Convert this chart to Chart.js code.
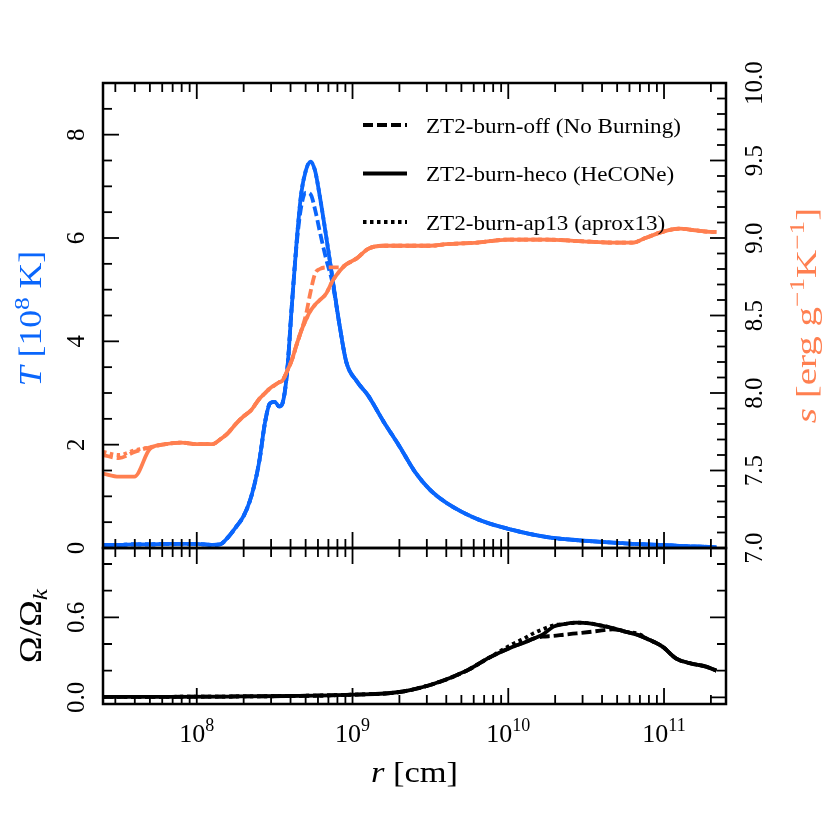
<!DOCTYPE html>
<html>
<head>
<meta charset="utf-8">
<script src="https://cdn.jsdelivr.net/npm/chart.js@4.4.1/dist/chart.umd.min.js"></script>
<style>
body { margin: 0; background: #fff; }
#wrap { position: relative; width: 830px; height: 830px; }
#wrap canvas { position: absolute; left: 0; top: 0; }
</style>
</head>
<body>
<div id="wrap">
  <canvas id="topChart" width="830" height="830"></canvas>
  <canvas id="botChart" width="830" height="830"></canvas>
</div>
<script>
// ---- data ----
const seriesLabels = ['ZT2-burn-off (No Burning)', 'ZT2-burn-heco (HeCONe)', 'ZT2-burn-ap13 (aprox13)'];

// radius grid (cm) for the upper panel
const radiusTop = [2.5e7, 3.16e7, 3.98e7, 5.01e7, 6.31e7, 7.94e7, 1.0e8, 1.26e8, 1.41e8, 1.58e8,
  1.78e8, 2.0e8, 2.24e8, 2.51e8, 2.75e8, 2.95e8, 3.16e8, 3.39e8, 3.55e8, 3.8e8,
  4.07e8, 4.37e8, 4.68e8, 5.01e8, 5.37e8, 5.75e8, 6.17e8, 6.76e8, 7.41e8, 8.32e8,
  9.12e8, 1.07e9, 1.26e9, 1.58e9, 2.0e9, 2.51e9, 3.16e9, 3.98e9, 6.31e9, 1.0e10,
  1.78e10, 2.82e10, 5.01e10, 6.31e10, 7.59e10, 9.77e10, 1.26e11, 1.58e11, 2.0e11, 2.17e11];

// temperature, 10^8 K
const tempOff = [0.06, 0.06, 0.07, 0.07, 0.08, 0.08, 0.08, 0.06, 0.07, 0.2,
  0.4, 0.62, 1.0, 1.65, 2.45, 2.8, 2.83, 2.74, 2.8, 3.4,
  4.66, 5.85, 6.6, 6.88, 6.85, 6.55, 6.12, 5.6, 5.15, 4.25,
  3.6, 3.22, 2.95, 2.45, 1.97, 1.48, 1.12, 0.88, 0.56, 0.37,
  0.21, 0.15, 0.1, 0.08, 0.07, 0.06, 0.04, 0.03, 0.02, 0.01];
const tempHeco = [0.06, 0.06, 0.07, 0.07, 0.08, 0.08, 0.08, 0.06, 0.07, 0.2,
  0.4, 0.62, 1.0, 1.65, 2.45, 2.8, 2.83, 2.74, 2.8, 3.4,
  4.66, 5.9, 6.85, 7.3, 7.48, 7.3, 6.8, 6.05, 5.25, 4.25,
  3.6, 3.22, 2.95, 2.45, 1.97, 1.48, 1.12, 0.88, 0.56, 0.37,
  0.21, 0.15, 0.1, 0.08, 0.07, 0.06, 0.04, 0.03, 0.02, 0.01];
const tempAp13 = [0.06, 0.06, 0.07, 0.07, 0.08, 0.08, 0.08, 0.06, 0.07, 0.2,
  0.4, 0.62, 1.0, 1.65, 2.45, 2.8, 2.83, 2.74, 2.8, 3.4,
  4.66, 5.9, 6.85, 7.3, 7.48, 7.3, 6.8, 6.05, 5.25, 4.25,
  3.6, 3.22, 2.95, 2.45, 1.97, 1.48, 1.12, 0.88, 0.56, 0.37,
  0.21, 0.15, 0.1, 0.08, 0.07, 0.06, 0.04, 0.03, 0.02, 0.01];

// entropy, erg g^-1 K^-1
const entropyOff = [7.6, 7.58, 7.62, 7.65, 7.67, 7.68, 7.67, 7.67, 7.7, 7.74,
  7.8, 7.85, 7.89, 7.96, 8.0, 8.03, 8.05, 8.07, 8.08, 8.14,
  8.21, 8.31, 8.4, 8.5, 8.65, 8.77, 8.8, 8.81, 8.81, 8.81,
  8.83, 8.87, 8.93, 8.95, 8.95, 8.95, 8.95, 8.96, 8.97, 8.99,
  8.99, 8.98, 8.97, 8.97, 9.0, 9.04, 9.06, 9.05, 9.04, 9.04];
const entropyHeco = [7.48, 7.46, 7.46, 7.64, 7.67, 7.68, 7.67, 7.67, 7.7, 7.74,
  7.8, 7.85, 7.89, 7.96, 8.0, 8.03, 8.05, 8.07, 8.08, 8.14,
  8.21, 8.31, 8.4, 8.47, 8.53, 8.57, 8.6, 8.64, 8.72, 8.79,
  8.83, 8.87, 8.93, 8.95, 8.95, 8.95, 8.95, 8.96, 8.97, 8.99,
  8.99, 8.98, 8.97, 8.97, 9.0, 9.04, 9.06, 9.05, 9.04, 9.04];
const entropyAp13 = [7.62, 7.6, 7.63, 7.65, 7.67, 7.68, 7.67, 7.67, 7.7, 7.74,
  7.8, 7.85, 7.89, 7.96, 8.0, 8.03, 8.05, 8.07, 8.08, 8.14,
  8.21, 8.31, 8.4, 8.47, 8.53, 8.57, 8.6, 8.64, 8.72, 8.79,
  8.83, 8.87, 8.93, 8.95, 8.95, 8.95, 8.95, 8.96, 8.97, 8.99,
  8.99, 8.98, 8.97, 8.97, 9.0, 9.04, 9.06, 9.05, 9.04, 9.04];

// lower panel, Omega / Omega_k
const radiusBottom = [2.5e7, 6.3e7, 1.58e8, 3.98e8, 1.0e9, 2.0e9, 3.3e9, 5.4e9, 7.6e9, 1.07e10,
  1.26e10, 1.45e10, 1.66e10, 1.95e10, 2.29e10, 2.75e10, 3.31e10, 3.89e10, 4.68e10, 5.75e10,
  6.92e10, 7.76e10, 9.77e10, 1.2e11, 1.48e11, 1.86e11, 2.17e11];
const omegaOff = [0.003, 0.004, 0.006, 0.01, 0.02, 0.04, 0.1, 0.2, 0.3, 0.38,
  0.41, 0.44, 0.455, 0.46, 0.47, 0.48, 0.49, 0.5, 0.51, 0.49,
  0.465, 0.44, 0.38, 0.29, 0.255, 0.23, 0.2];
const omegaHeco = [0.003, 0.004, 0.006, 0.01, 0.02, 0.04, 0.1, 0.2, 0.3, 0.38,
  0.41, 0.44, 0.47, 0.53, 0.55, 0.56, 0.555, 0.54, 0.52, 0.49,
  0.465, 0.44, 0.38, 0.29, 0.255, 0.23, 0.2];
const omegaAp13 = [0.003, 0.004, 0.006, 0.01, 0.02, 0.04, 0.1, 0.2, 0.3, 0.4,
  0.44, 0.48, 0.51, 0.54, 0.55, 0.56, 0.555, 0.54, 0.52, 0.49,
  0.475, 0.44, 0.38, 0.29, 0.255, 0.23, 0.2];

// ticks
const xMajorTicks = [1e8, 1e9, 1e10, 1e11];
const xTickExps = ['8', '9', '10', '11'];
const tempTicks = [0, 2, 4, 6, 8];
const entropyTicks = [7.0, 7.5, 8.0, 8.5, 9.0, 9.5, 10.0];
const omegaTicks = [0.0, 0.6];

// ---- styling ----
const BLUE = '#0a66fc';
const CORAL = '#ff7f50';
const FONT = '"Liberation Serif", "DejaVu Serif", serif';
const dashes = [[10, 4], [], [3.5, 3.5]];

function between(lo, hi, step, skip) {
    let out = [];
    for (let v = lo; v <= hi + 1e-9; v += step) {
        let r = Math.round(v * 100) / 100;
        if (!skip.some(s => Math.abs(s - r) < 1e-6)) out.push(r);
    }
    return out;
}
function logMinor(lo, hi) {
    let out = [];
    for (let e = 7; e <= 11; e++) {
        for (let k = 2; k <= 9; k++) {
            let v = k * Math.pow(10, e);
            if (v > lo && v < hi) out.push(v);
        }
    }
    return out;
}
const xMinorTicks = logMinor(2.5e7, 2.5e11);
const tempMinor = between(0, 9, 0.5, tempTicks);
const entropyMinor = between(7, 10, 0.1, entropyTicks);
const omegaMinor = between(0, 1.1, 0.2, omegaTicks);

function pts(xs, ys) {
    return xs.map((x, i) => ({ x: x, y: ys[i] }));
}

// centred text made of pieces (italic / superscript / subscript), optionally rotated and stretched
function richText(ctx, segs, x, y, size, color, rot, stretch) {
    ctx.save();
    ctx.translate(x, y);
    ctx.rotate(rot || 0);
    ctx.scale(stretch || 1, 1);
    ctx.fillStyle = color;
    ctx.textBaseline = 'alphabetic';
    ctx.textAlign = 'left';
    const fontOf = s => (s.it ? 'italic ' : '') + (s.sup || s.sub ? Math.round(size * 0.7) : size) + 'px ' + FONT;
    let total = 0;
    segs.forEach(s => { ctx.font = fontOf(s); s.w = ctx.measureText(s.t).width; total += s.w; });
    let cx = -total / 2;
    segs.forEach(s => {
        ctx.font = fontOf(s);
        let dy = s.sup ? -size * 0.4 : (s.sub ? size * 0.2 : 0);
        ctx.fillText(s.t, cx, size * 0.33 + dy);
        cx += s.w;
    });
    ctx.restore();
}

function hTicks(ctx, scale, a, values, len) {
    values.forEach(v => {
        let px = scale.getPixelForValue(v);
        ctx.beginPath();
        ctx.moveTo(px, a.bottom); ctx.lineTo(px, a.bottom - len);
        ctx.moveTo(px, a.top); ctx.lineTo(px, a.top + len);
        ctx.stroke();
    });
}
function vTicks(ctx, scale, a, values, len, left, right) {
    values.forEach(v => {
        let py = scale.getPixelForValue(v);
        ctx.beginPath();
        if (left) { ctx.moveTo(a.left, py); ctx.lineTo(a.left + len, py); }
        if (right) { ctx.moveTo(a.right, py); ctx.lineTo(a.right - len, py); }
        ctx.stroke();
    });
}

const topAxes = {
    id: 'topAxes',
    afterDraw(chart) {
        const ctx = chart.ctx, a = chart.chartArea, sc = chart.scales;
        ctx.save();
        ctx.strokeStyle = '#000';
        ctx.lineWidth = 1.8;
        hTicks(ctx, sc.x, a, xMajorTicks, 16);
        hTicks(ctx, sc.x, a, xMinorTicks, 9);
        vTicks(ctx, sc.yT, a, tempTicks, 16, true, false);
        vTicks(ctx, sc.yT, a, tempMinor, 9, true, false);
        vTicks(ctx, sc.yS, a, entropyTicks, 16, false, true);
        vTicks(ctx, sc.yS, a, entropyMinor, 9, false, true);
        ctx.lineWidth = 2.5;
        ctx.strokeRect(a.left, a.top, a.right - a.left, a.bottom - a.top);

        // legend
        ctx.lineWidth = 3.8;
        seriesLabels.forEach((label, i) => {
            let y = 125 + i * 48.5;
            ctx.setLineDash(dashes[i]);
            ctx.beginPath(); ctx.moveTo(363, y); ctx.lineTo(407, y); ctx.stroke();
            ctx.setLineDash([]);
            ctx.save();
            ctx.translate(426, y + 2);
            ctx.scale(1.1, 1);
            ctx.fillStyle = '#000';
            ctx.font = '21px ' + FONT;
            ctx.textBaseline = 'middle';
            ctx.fillText(label, 0, 0);
            ctx.restore();
        });
        ctx.restore();

        tempTicks.forEach(v => richText(ctx, [{ t: String(v) }], 76, sc.yT.getPixelForValue(v), 25, '#000', -Math.PI / 2));
        entropyTicks.forEach(v => richText(ctx, [{ t: v.toFixed(1) }], 754, sc.yS.getPixelForValue(v), 25, '#000', -Math.PI / 2));
        let mid = (a.top + a.bottom) / 2;
        richText(ctx, [{ t: 'T', it: true }, { t: ' [10' }, { t: '8', sup: true }, { t: ' K]' }], 31, mid + 3, 31, BLUE, -Math.PI / 2, 1.15);
        richText(ctx, [{ t: 's', it: true }, { t: ' [erg g' }, { t: '\u22121', sup: true }, { t: 'K' }, { t: '\u22121', sup: true }, { t: ']' }], 806, mid, 30, CORAL, -Math.PI / 2, 1.3);
    }
};

const botAxes = {
    id: 'botAxes',
    afterDraw(chart) {
        const ctx = chart.ctx, a = chart.chartArea, sc = chart.scales;
        ctx.save();
        ctx.strokeStyle = '#000';
        ctx.lineWidth = 1.8;
        hTicks(ctx, sc.x, a, xMajorTicks, 16);
        hTicks(ctx, sc.x, a, xMinorTicks, 9);
        vTicks(ctx, sc.yW, a, omegaTicks, 16, true, true);
        vTicks(ctx, sc.yW, a, omegaMinor, 9, true, true);
        ctx.lineWidth = 2.5;
        ctx.strokeRect(a.left, a.top, a.right - a.left, a.bottom - a.top);
        ctx.restore();

        omegaTicks.forEach(v => richText(ctx, [{ t: v.toFixed(1) }], 76, sc.yW.getPixelForValue(v), 25, '#000', -Math.PI / 2));
        xMajorTicks.forEach((v, i) => richText(ctx, [{ t: '10' }, { t: xTickExps[i], sup: true }], sc.x.getPixelForValue(v), 733, 26, '#000', 0));
        richText(ctx, [{ t: '\u03a9/\u03a9' }, { t: 'k', sub: true, it: true }], 31, (a.top + a.bottom) / 2, 31, '#000', -Math.PI / 2, 1.15);
        richText(ctx, [{ t: 'r', it: true }, { t: ' [cm]' }], (a.left + a.right) / 2, 772, 30, '#000', 0, 1.15);
    }
};

const lineDefaults = {
    animation: false,
    responsive: false,
    events: [],
    elements: {
        point: { radius: 0 },
        line: { borderWidth: 3.8, cubicInterpolationMode: 'monotone', borderCapStyle: 'butt' }
    },
    plugins: { legend: { display: false }, tooltip: { enabled: false } }
};

const topChart = new Chart(document.getElementById('topChart'), {
    type: 'line',
    data: {
        datasets: [
            { data: pts(radiusTop, tempOff), yAxisID: 'yT', borderColor: BLUE, borderDash: dashes[0], order: 6 },
            { data: pts(radiusTop, tempHeco), yAxisID: 'yT', borderColor: BLUE, borderDash: dashes[1], order: 5 },
            { data: pts(radiusTop, tempAp13), yAxisID: 'yT', borderColor: BLUE, borderDash: dashes[2], order: 4 },
            { data: pts(radiusTop, entropyOff), yAxisID: 'yS', borderColor: CORAL, borderDash: dashes[0], order: 3 },
            { data: pts(radiusTop, entropyHeco), yAxisID: 'yS', borderColor: CORAL, borderDash: dashes[1], order: 2 },
            { data: pts(radiusTop, entropyAp13), yAxisID: 'yS', borderColor: CORAL, borderDash: dashes[2], order: 1 }
        ]
    },
    options: Object.assign({}, lineDefaults, {
        layout: { padding: { left: 103, top: 83, right: 104, bottom: 282 } },
        scales: {
            x: { type: 'logarithmic', min: 2.5e7, max: 2.5e11, display: false },
            yT: { type: 'linear', position: 'left', min: 0, max: 9, display: false },
            yS: { type: 'linear', position: 'right', min: 7, max: 10, display: false }
        }
    }),
    plugins: [topAxes]
});

const botChart = new Chart(document.getElementById('botChart'), {
    type: 'line',
    data: {
        datasets: [
            { data: pts(radiusBottom, omegaOff), yAxisID: 'yW', borderColor: '#000', borderDash: dashes[0], order: 3 },
            { data: pts(radiusBottom, omegaHeco), yAxisID: 'yW', borderColor: '#000', borderDash: dashes[1], order: 2 },
            { data: pts(radiusBottom, omegaAp13), yAxisID: 'yW', borderColor: '#000', borderDash: dashes[2], order: 1 }
        ]
    },
    options: Object.assign({}, lineDefaults, {
        layout: { padding: { left: 103, top: 548, right: 104, bottom: 126 } },
        scales: {
            x: { type: 'logarithmic', min: 2.5e7, max: 2.5e11, display: false },
            yW: { type: 'linear', position: 'left', min: -0.05, max: 1.12, display: false }
        }
    }),
    plugins: [botAxes]
});
</script>
</body>
</html>
